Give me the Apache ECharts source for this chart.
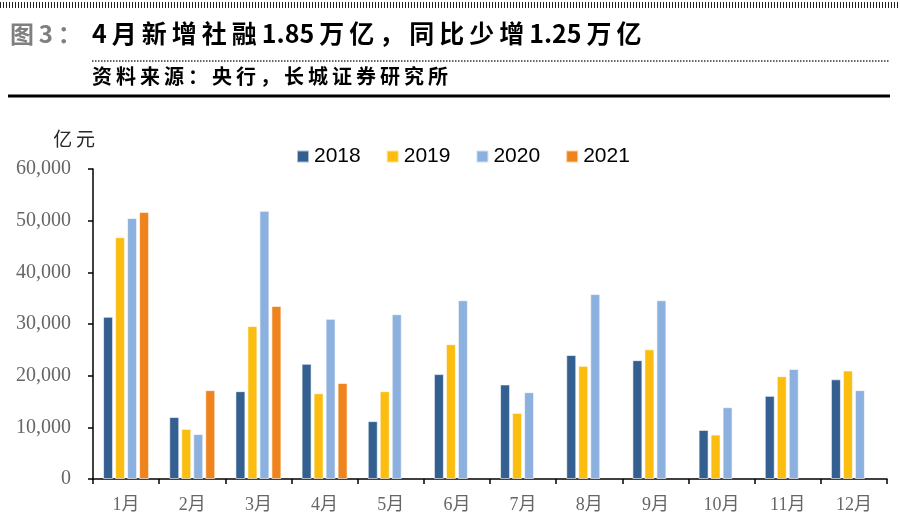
<!DOCTYPE html>
<html><head><meta charset="utf-8">
<script src="https://cdn.jsdelivr.net/npm/echarts@6/dist/echarts.min.js"></script>
<style>html,body{margin:0;padding:0;background:#fff}#c{width:900px;height:523px}</style>
</head><body><div id="c"></div>
<script>
const categories = ['1月','2月','3月','4月','5月','6月','7月','8月','9月','10月','11月','12月'];
const years = ['2018','2019','2020','2021'];
const v2018 = [31400, 12000, 17000, 22300, 11200, 20300, 18300, 24000, 23000, 9500, 16100, 19300];
const v2019 = [46800, 9700, 29600, 16600, 17000, 26100, 12800, 21900, 25100, 8600, 19900, 21000];
const v2020 = [50500, 8700, 51900, 31000, 31900, 34600, 16800, 35800, 34600, 13900, 21300, 17200];
const v2021 = [51700, 17200, 33500, 18600, null, null, null, null, null, null, null, null];
const yTicks = [0, 10000, 20000, 30000, 40000, 50000, 60000];
const colors = ['#335F91', '#FABD10', '#8DB1DE', '#EF841E'];
const seriesValues = [v2018, v2019, v2020, v2021];

const chart = echarts.init(document.getElementById('c'), null, {renderer: 'canvas'});
const cjk = '"Noto Sans CJK SC", "Noto Sans", sans-serif';
const serif = '"Liberation Serif", "Noto Sans CJK SC", serif';
const isAscii = c => c.charCodeAt(0) < 128;
const spaced = s => {
  const a = Array.from(s);
  let out = '';
  a.forEach((c, i) => {
    out += c;
    if (i < a.length - 1 && !(isAscii(c) && isAscii(a[i + 1]))) out += '\u2009';
  });
  return out;
};

chart.setOption({
  animation: false,
  backgroundColor: '#fff',
  grid: {left: 93, right: 13, top: 169, bottom: 44, containLabel: false},
  legend: {
    top: 141, left: 291, itemWidth: 12, itemHeight: 12, itemGap: 25,
    icon: 'rect',
    textStyle: {fontFamily: '"Liberation Sans", "Noto Sans", sans-serif', fontSize: 21, color: '#000'},
    data: years
  },
  xAxis: {
    type: 'category', data: categories,
    axisLine: {lineStyle: {color: '#000', width: 1.5}},
    axisTick: {show: true, length: 5, inside: false, lineStyle: {color: '#000', width: 1.5}},
    axisLabel: {fontFamily: serif, fontSize: 18, color: '#666', margin: 17}
  },
  yAxis: {
    type: 'value', min: yTicks[0], max: yTicks[yTicks.length-1], interval: 10000,
    name: '亿\u2009元', nameLocation: 'end', nameGap: 21,
    nameTextStyle: {fontFamily: cjk, fontSize: 19, color: '#262626', align: 'right', padding: [0, -2, 0, 0]},
    axisLine: {show: true, lineStyle: {color: '#000', width: 1.5}},
    axisTick: {show: true, length: 5, lineStyle: {color: '#000', width: 1.5}},
    splitLine: {show: false},
    axisLabel: {fontFamily: serif, fontSize: 20, color: '#666', margin: 22,
      formatter: v => v.toString().replace(/\B(?=(\d{3})+(?!\d))/g, ',')}
  },
  series: years.map((y, i) => ({
    name: y, type: 'bar', data: seriesValues[i],
    barWidth: 10, barGap: '20%',
    itemStyle: {color: colors[i], borderColor: 'rgba(255,255,255,0.6)', borderWidth: 1}
  })),
  graphic: [
    {type: 'line', shape: {x1: 0, y1: 5, x2: 900, y2: 5}, style: {stroke: '#222', lineWidth: 6, lineDash: [1, 2]}},
    {type: 'text', left: 10, top: 22, style: {text: spaced('图3：'), font: 'bold 24px ' + cjk, fill: '#7F7F7F'}},
    {type: 'text', left: 92, top: 21, style: {text: spaced('4月新增社融1.85万亿，同比少增1.25万亿'), font: 'bold 25px ' + cjk, fill: '#000'}},
    {type: 'line', shape: {x1: 92, y1: 61, x2: 890, y2: 61}, style: {stroke: '#333', lineWidth: 1.5, lineDash: [1.5, 1.5]}},
    {type: 'text', left: 92, top: 66, style: {text: spaced('资料来源：央行，长城证券研究所'), font: 'bold 20px ' + cjk, fill: '#000'}},
    {type: 'line', shape: {x1: 8, y1: 96, x2: 890, y2: 96}, style: {stroke: '#000', lineWidth: 3}}
  ]
});
</script></body></html>
